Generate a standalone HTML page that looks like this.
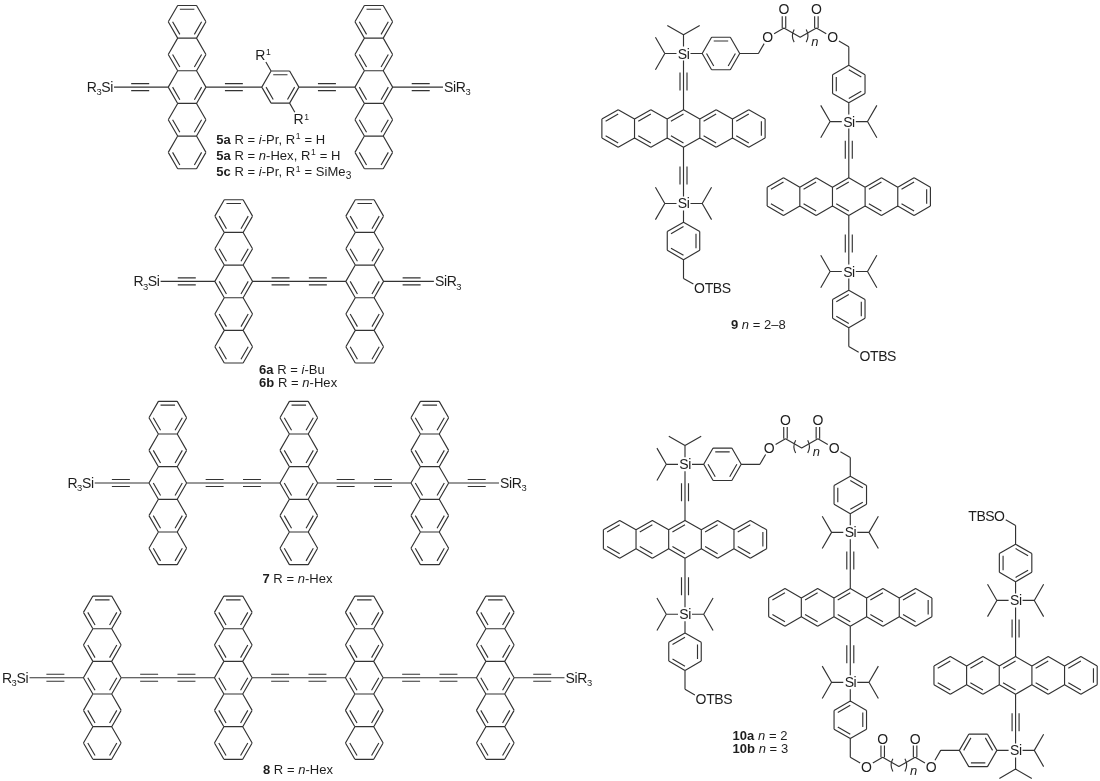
<!DOCTYPE html><html><head><meta charset="utf-8"><style>html,body{margin:0;padding:0;background:#fff;}svg{display:block;will-change:transform;}text{font-family:"Liberation Sans",sans-serif;fill:#1e1e1e;}</style></head><body>
<svg width="1100" height="781" viewBox="0 0 1100 781">
<rect width="1100" height="781" fill="#fff"/>
<g stroke="#333" stroke-width="1.15" fill="none" stroke-linecap="butt">
<path d="M168.25,21.80L177.67,5.48M177.67,5.48L196.53,5.48M196.53,5.48L205.95,21.80M205.95,21.80L196.53,38.13M196.53,38.13L177.68,38.13M177.68,38.13L168.25,21.80M179.84,9.23L194.36,9.23M201.61,21.80L194.36,34.37M179.84,34.37L172.59,21.80M168.25,54.45L177.67,38.13M196.53,38.13L205.95,54.45M205.95,54.45L196.53,70.78M196.53,70.78L177.68,70.78M177.68,70.78L168.25,54.45M201.61,54.45L194.36,67.02M179.84,67.02L172.59,54.45M168.25,87.10L177.67,70.78M196.53,70.78L205.95,87.10M205.95,87.10L196.53,103.42M196.53,103.42L177.68,103.42M177.68,103.42L168.25,87.10M201.61,87.10L194.36,99.67M179.84,99.67L172.59,87.10M168.25,119.75L177.67,103.42M196.53,103.42L205.95,119.75M205.95,119.75L196.53,136.07M196.53,136.07L177.68,136.07M177.68,136.07L168.25,119.75M201.61,119.75L194.36,132.32M179.84,132.32L172.59,119.75M168.25,152.40L177.67,136.07M196.53,136.07L205.95,152.40M205.95,152.40L196.53,168.72M196.53,168.72L177.68,168.72M177.68,168.72L168.25,152.40M201.61,152.40L194.36,164.97M179.84,164.97L172.59,152.40M354.95,21.80L364.38,5.48M364.38,5.48L383.23,5.48M383.23,5.48L392.65,21.80M392.65,21.80L383.23,38.13M383.23,38.13L364.38,38.13M364.38,38.13L354.95,21.80M366.54,9.23L381.06,9.23M388.31,21.80L381.06,34.37M366.54,34.37L359.29,21.80M354.95,54.45L364.38,38.13M383.23,38.13L392.65,54.45M392.65,54.45L383.23,70.78M383.23,70.78L364.38,70.78M364.38,70.78L354.95,54.45M388.31,54.45L381.06,67.02M366.54,67.02L359.29,54.45M354.95,87.10L364.38,70.78M383.23,70.78L392.65,87.10M392.65,87.10L383.23,103.42M383.23,103.42L364.38,103.42M364.38,103.42L354.95,87.10M388.31,87.10L381.06,99.67M366.54,99.67L359.29,87.10M354.95,119.75L364.38,103.42M383.23,103.42L392.65,119.75M392.65,119.75L383.23,136.07M383.23,136.07L364.38,136.07M364.38,136.07L354.95,119.75M388.31,119.75L381.06,132.32M366.54,132.32L359.29,119.75M354.95,152.40L364.38,136.07M383.23,136.07L392.65,152.40M392.65,152.40L383.23,168.72M383.23,168.72L364.38,168.72M364.38,168.72L354.95,152.40M388.31,152.40L381.06,164.97M366.54,164.97L359.29,152.40M261.80,87.10L271.07,71.04M271.07,71.04L289.62,71.04M289.62,71.04L298.90,87.10M298.90,87.10L289.62,103.16M289.62,103.16L271.08,103.16M271.08,103.16L261.80,87.10M273.21,74.73L287.49,74.73M294.63,87.10L287.49,99.47M273.21,99.47L266.07,87.10M114.02,87.10L168.25,87.10M131.18,90.60L149.19,90.60M131.18,83.60L149.19,83.60M205.95,87.10L261.80,87.10M224.92,90.60L242.83,90.60M224.92,83.60L242.83,83.60M298.90,87.10L354.95,87.10M317.93,90.60L335.92,90.60M317.93,83.60L335.92,83.60M392.65,87.10L442.98,87.10M411.71,90.60L429.72,90.60M411.71,83.60L429.72,83.60M271.07,71.04L265.87,62.02M289.62,103.16L294.83,112.18M214.85,216.10L224.27,199.78M224.27,199.78L243.12,199.78M243.12,199.78L252.55,216.10M252.55,216.10L243.12,232.43M243.12,232.43L224.27,232.43M224.27,232.43L214.85,216.10M226.44,203.53L240.96,203.53M248.21,216.10L240.96,228.67M226.44,228.67L219.19,216.10M214.85,248.75L224.27,232.43M243.12,232.43L252.55,248.75M252.55,248.75L243.12,265.08M243.12,265.08L224.27,265.08M224.27,265.08L214.85,248.75M248.21,248.75L240.96,261.32M226.44,261.32L219.19,248.75M214.85,281.40L224.27,265.08M243.12,265.08L252.55,281.40M252.55,281.40L243.12,297.72M243.12,297.72L224.27,297.72M224.27,297.72L214.85,281.40M248.21,281.40L240.96,293.97M226.44,293.97L219.19,281.40M214.85,314.05L224.27,297.72M243.12,297.72L252.55,314.05M252.55,314.05L243.12,330.37M243.12,330.37L224.27,330.37M224.27,330.37L214.85,314.05M248.21,314.05L240.96,326.62M226.44,326.62L219.19,314.05M214.85,346.70L224.27,330.37M243.12,330.37L252.55,346.70M252.55,346.70L243.12,363.02M243.12,363.02L224.27,363.02M224.27,363.02L214.85,346.70M248.21,346.70L240.96,359.27M226.44,359.27L219.19,346.70M345.85,216.10L355.27,199.78M355.27,199.78L374.12,199.78M374.12,199.78L383.55,216.10M383.55,216.10L374.12,232.43M374.12,232.43L355.27,232.43M355.27,232.43L345.85,216.10M357.44,203.53L371.96,203.53M379.21,216.10L371.96,228.67M357.44,228.67L350.19,216.10M345.85,248.75L355.27,232.43M374.12,232.43L383.55,248.75M383.55,248.75L374.12,265.08M374.12,265.08L355.27,265.08M355.27,265.08L345.85,248.75M379.21,248.75L371.96,261.32M357.44,261.32L350.19,248.75M345.85,281.40L355.27,265.08M374.12,265.08L383.55,281.40M383.55,281.40L374.12,297.72M374.12,297.72L355.27,297.72M355.27,297.72L345.85,281.40M379.21,281.40L371.96,293.97M357.44,293.97L350.19,281.40M345.85,314.05L355.27,297.72M374.12,297.72L383.55,314.05M383.55,314.05L374.12,330.37M374.12,330.37L355.27,330.37M355.27,330.37L345.85,314.05M379.21,314.05L371.96,326.62M357.44,326.62L350.19,314.05M345.85,346.70L355.27,330.37M374.12,330.37L383.55,346.70M383.55,346.70L374.12,363.02M374.12,363.02L355.27,363.02M355.27,363.02L345.85,346.70M379.21,346.70L371.96,359.27M357.44,359.27L350.19,346.70M160.62,281.40L214.85,281.40M177.78,284.90L195.79,284.90M177.78,277.90L195.79,277.90M252.55,281.40L345.85,281.40M271.56,284.90L289.52,284.90M271.56,277.90L289.52,277.90M308.88,284.90L326.84,284.90M308.88,277.90L326.84,277.90M383.55,281.40L433.88,281.40M402.61,284.90L420.62,284.90M402.61,277.90L420.62,277.90M148.95,417.70L158.38,401.38M158.38,401.38L177.23,401.38M177.23,401.38L186.65,417.70M186.65,417.70L177.23,434.03M177.23,434.03L158.38,434.03M158.38,434.03L148.95,417.70M160.54,405.13L175.06,405.13M182.31,417.70L175.06,430.27M160.54,430.27L153.29,417.70M148.95,450.35L158.38,434.03M177.23,434.03L186.65,450.35M186.65,450.35L177.23,466.68M177.23,466.68L158.38,466.68M158.38,466.68L148.95,450.35M182.31,450.35L175.06,462.92M160.54,462.92L153.29,450.35M148.95,483.00L158.38,466.68M177.23,466.68L186.65,483.00M186.65,483.00L177.23,499.32M177.23,499.32L158.38,499.32M158.38,499.32L148.95,483.00M182.31,483.00L175.06,495.57M160.54,495.57L153.29,483.00M148.95,515.65L158.38,499.32M177.23,499.32L186.65,515.65M186.65,515.65L177.23,531.97M177.23,531.97L158.38,531.97M158.38,531.97L148.95,515.65M182.31,515.65L175.06,528.22M160.54,528.22L153.29,515.65M148.95,548.30L158.38,531.97M177.23,531.97L186.65,548.30M186.65,548.30L177.23,564.62M177.23,564.62L158.38,564.62M158.38,564.62L148.95,548.30M182.31,548.30L175.06,560.87M160.54,560.87L153.29,548.30M279.95,417.70L289.38,401.38M289.38,401.38L308.23,401.38M308.23,401.38L317.65,417.70M317.65,417.70L308.23,434.03M308.23,434.03L289.38,434.03M289.38,434.03L279.95,417.70M291.54,405.13L306.06,405.13M313.31,417.70L306.06,430.27M291.54,430.27L284.29,417.70M279.95,450.35L289.38,434.03M308.23,434.03L317.65,450.35M317.65,450.35L308.23,466.68M308.23,466.68L289.38,466.68M289.38,466.68L279.95,450.35M313.31,450.35L306.06,462.92M291.54,462.92L284.29,450.35M279.95,483.00L289.38,466.68M308.23,466.68L317.65,483.00M317.65,483.00L308.23,499.32M308.23,499.32L289.38,499.32M289.38,499.32L279.95,483.00M313.31,483.00L306.06,495.57M291.54,495.57L284.29,483.00M279.95,515.65L289.38,499.32M308.23,499.32L317.65,515.65M317.65,515.65L308.23,531.97M308.23,531.97L289.38,531.97M289.38,531.97L279.95,515.65M313.31,515.65L306.06,528.22M291.54,528.22L284.29,515.65M279.95,548.30L289.38,531.97M308.23,531.97L317.65,548.30M317.65,548.30L308.23,564.62M308.23,564.62L289.38,564.62M289.38,564.62L279.95,548.30M313.31,548.30L306.06,560.87M291.54,560.87L284.29,548.30M410.95,417.70L420.38,401.38M420.38,401.38L439.23,401.38M439.23,401.38L448.65,417.70M448.65,417.70L439.23,434.03M439.23,434.03L420.38,434.03M420.38,434.03L410.95,417.70M422.54,405.13L437.06,405.13M444.31,417.70L437.06,430.27M422.54,430.27L415.29,417.70M410.95,450.35L420.38,434.03M439.23,434.03L448.65,450.35M448.65,450.35L439.23,466.68M439.23,466.68L420.38,466.68M420.38,466.68L410.95,450.35M444.31,450.35L437.06,462.92M422.54,462.92L415.29,450.35M410.95,483.00L420.38,466.68M439.23,466.68L448.65,483.00M448.65,483.00L439.23,499.32M439.23,499.32L420.38,499.32M420.38,499.32L410.95,483.00M444.31,483.00L437.06,495.57M422.54,495.57L415.29,483.00M410.95,515.65L420.38,499.32M439.23,499.32L448.65,515.65M448.65,515.65L439.23,531.97M439.23,531.97L420.38,531.97M420.38,531.97L410.95,515.65M444.31,515.65L437.06,528.22M422.54,528.22L415.29,515.65M410.95,548.30L420.38,531.97M439.23,531.97L448.65,548.30M448.65,548.30L439.23,564.62M439.23,564.62L420.38,564.62M420.38,564.62L410.95,548.30M444.31,548.30L437.06,560.87M422.54,560.87L415.29,548.30M94.72,483.00L148.95,483.00M111.88,486.50L129.89,486.50M111.88,479.50L129.89,479.50M186.65,483.00L279.95,483.00M205.66,486.50L223.62,486.50M205.66,479.50L223.62,479.50M242.98,486.50L260.94,486.50M242.98,479.50L260.94,479.50M317.65,483.00L410.95,483.00M336.66,486.50L354.62,486.50M336.66,479.50L354.62,479.50M373.98,486.50L391.94,486.50M373.98,479.50L391.94,479.50M448.65,483.00L498.98,483.00M467.71,486.50L485.72,486.50M467.71,479.50L485.72,479.50M83.45,612.40L92.87,596.08M92.87,596.08L111.72,596.08M111.72,596.08L121.15,612.40M121.15,612.40L111.72,628.73M111.72,628.73L92.88,628.73M92.88,628.73L83.45,612.40M95.04,599.83L109.56,599.83M116.81,612.40L109.56,624.97M95.04,624.97L87.79,612.40M83.45,645.05L92.87,628.73M111.72,628.73L121.15,645.05M121.15,645.05L111.72,661.38M111.72,661.38L92.88,661.38M92.88,661.38L83.45,645.05M116.81,645.05L109.56,657.62M95.04,657.62L87.79,645.05M83.45,677.70L92.87,661.38M111.72,661.38L121.15,677.70M121.15,677.70L111.72,694.02M111.72,694.02L92.88,694.02M92.88,694.02L83.45,677.70M116.81,677.70L109.56,690.27M95.04,690.27L87.79,677.70M83.45,710.35L92.87,694.02M111.72,694.02L121.15,710.35M121.15,710.35L111.72,726.67M111.72,726.67L92.88,726.67M92.88,726.67L83.45,710.35M116.81,710.35L109.56,722.92M95.04,722.92L87.79,710.35M83.45,743.00L92.87,726.67M111.72,726.67L121.15,743.00M121.15,743.00L111.72,759.32M111.72,759.32L92.88,759.32M92.88,759.32L83.45,743.00M116.81,743.00L109.56,755.57M95.04,755.57L87.79,743.00M214.45,612.40L223.88,596.08M223.88,596.08L242.73,596.08M242.73,596.08L252.15,612.40M252.15,612.40L242.73,628.73M242.73,628.73L223.88,628.73M223.88,628.73L214.45,612.40M226.04,599.83L240.56,599.83M247.81,612.40L240.56,624.97M226.04,624.97L218.79,612.40M214.45,645.05L223.88,628.73M242.73,628.73L252.15,645.05M252.15,645.05L242.73,661.38M242.73,661.38L223.88,661.38M223.88,661.38L214.45,645.05M247.81,645.05L240.56,657.62M226.04,657.62L218.79,645.05M214.45,677.70L223.88,661.38M242.73,661.38L252.15,677.70M252.15,677.70L242.73,694.02M242.73,694.02L223.88,694.02M223.88,694.02L214.45,677.70M247.81,677.70L240.56,690.27M226.04,690.27L218.79,677.70M214.45,710.35L223.88,694.02M242.73,694.02L252.15,710.35M252.15,710.35L242.73,726.67M242.73,726.67L223.88,726.67M223.88,726.67L214.45,710.35M247.81,710.35L240.56,722.92M226.04,722.92L218.79,710.35M214.45,743.00L223.88,726.67M242.73,726.67L252.15,743.00M252.15,743.00L242.73,759.32M242.73,759.32L223.88,759.32M223.88,759.32L214.45,743.00M247.81,743.00L240.56,755.57M226.04,755.57L218.79,743.00M345.45,612.40L354.88,596.08M354.88,596.08L373.73,596.08M373.73,596.08L383.15,612.40M383.15,612.40L373.73,628.73M373.73,628.73L354.88,628.73M354.88,628.73L345.45,612.40M357.04,599.83L371.56,599.83M378.81,612.40L371.56,624.97M357.04,624.97L349.79,612.40M345.45,645.05L354.88,628.73M373.73,628.73L383.15,645.05M383.15,645.05L373.73,661.38M373.73,661.38L354.88,661.38M354.88,661.38L345.45,645.05M378.81,645.05L371.56,657.62M357.04,657.62L349.79,645.05M345.45,677.70L354.88,661.38M373.73,661.38L383.15,677.70M383.15,677.70L373.73,694.02M373.73,694.02L354.88,694.02M354.88,694.02L345.45,677.70M378.81,677.70L371.56,690.27M357.04,690.27L349.79,677.70M345.45,710.35L354.88,694.02M373.73,694.02L383.15,710.35M383.15,710.35L373.73,726.67M373.73,726.67L354.88,726.67M354.88,726.67L345.45,710.35M378.81,710.35L371.56,722.92M357.04,722.92L349.79,710.35M345.45,743.00L354.88,726.67M373.73,726.67L383.15,743.00M383.15,743.00L373.73,759.32M373.73,759.32L354.88,759.32M354.88,759.32L345.45,743.00M378.81,743.00L371.56,755.57M357.04,755.57L349.79,743.00M476.45,612.40L485.88,596.08M485.88,596.08L504.73,596.08M504.73,596.08L514.15,612.40M514.15,612.40L504.73,628.73M504.73,628.73L485.88,628.73M485.88,628.73L476.45,612.40M488.04,599.83L502.56,599.83M509.81,612.40L502.56,624.97M488.04,624.97L480.79,612.40M476.45,645.05L485.88,628.73M504.73,628.73L514.15,645.05M514.15,645.05L504.73,661.38M504.73,661.38L485.88,661.38M485.88,661.38L476.45,645.05M509.81,645.05L502.56,657.62M488.04,657.62L480.79,645.05M476.45,677.70L485.88,661.38M504.73,661.38L514.15,677.70M514.15,677.70L504.73,694.02M504.73,694.02L485.88,694.02M485.88,694.02L476.45,677.70M509.81,677.70L502.56,690.27M488.04,690.27L480.79,677.70M476.45,710.35L485.88,694.02M504.73,694.02L514.15,710.35M514.15,710.35L504.73,726.67M504.73,726.67L485.88,726.67M485.88,726.67L476.45,710.35M509.81,710.35L502.56,722.92M488.04,722.92L480.79,710.35M476.45,743.00L485.88,726.67M504.73,726.67L514.15,743.00M514.15,743.00L504.73,759.32M504.73,759.32L485.88,759.32M485.88,759.32L476.45,743.00M509.81,743.00L502.56,755.57M488.04,755.57L480.79,743.00M29.52,677.70L83.45,677.70M46.38,681.20L64.39,681.20M46.38,674.20L64.39,674.20M121.15,677.70L214.45,677.70M140.16,681.20L158.12,681.20M140.16,674.20L158.12,674.20M177.48,681.20L195.44,681.20M177.48,674.20L195.44,674.20M252.15,677.70L345.45,677.70M271.16,681.20L289.12,681.20M271.16,674.20L289.12,674.20M308.48,681.20L326.44,681.20M308.48,674.20L326.44,674.20M383.15,677.70L476.45,677.70M402.16,681.20L420.12,681.20M402.16,674.20L420.12,674.20M439.48,681.20L457.44,681.20M439.48,674.20L457.44,674.20M514.15,677.70L564.48,677.70M533.21,681.20L551.22,681.20M533.21,674.20L551.22,674.20M683.50,46.50L683.50,34.79M683.50,34.79L699.70,25.43M683.50,34.79L667.30,25.43M676.50,53.50L664.79,53.50M664.79,53.50L655.43,37.30M664.79,53.50L655.43,69.70M702.21,53.50L711.59,37.26M711.59,37.26L730.34,37.26M730.34,37.26L739.71,53.50M739.71,53.50L730.34,69.74M730.34,69.74L711.59,69.74M711.59,69.74L702.21,53.50M713.74,41.00L728.18,41.00M735.40,53.50L728.18,66.00M713.74,66.00L706.52,53.50M690.50,53.50L702.21,53.50M739.71,53.50L758.42,53.50M758.42,53.50L764.13,43.62M774.10,33.65L783.98,27.94M785.73,27.94L785.73,16.23M782.23,27.94L782.23,16.23M783.98,27.94L800.18,37.30M800.18,37.30L816.39,27.94M818.14,27.94L818.14,16.23M814.64,27.94L814.64,16.23M816.39,27.94L826.27,33.65M838.91,40.95L848.79,46.65M848.79,65.36L865.03,74.74M865.03,74.74L865.03,93.49M865.03,93.49L848.79,102.86M848.79,102.86L832.55,93.49M832.55,93.49L832.55,74.74M832.55,74.74L848.79,65.36M848.79,69.67L861.29,76.89M836.29,91.33L836.29,76.89M861.29,91.33L848.79,98.55M848.79,46.65L848.79,65.36M848.79,102.86L848.79,114.57M841.79,121.57L830.08,121.57M830.08,121.57L820.73,105.37M830.08,121.57L820.73,137.78M855.79,121.57L867.50,121.57M867.50,121.57L876.86,137.78M867.50,121.57L876.86,105.37M683.50,60.50L683.50,109.63M680.00,72.56L680.00,90.57M687.00,72.56L687.00,90.57M748.80,109.63L765.12,119.05M765.12,119.05L765.12,137.91M765.12,137.91L748.80,147.33M748.80,147.33L732.47,137.91M732.47,137.91L732.47,119.05M732.47,119.05L748.80,109.63M736.23,121.22L748.80,113.97M761.37,121.22L761.37,135.74M748.80,142.99L736.23,135.74M716.15,109.63L732.47,119.05M732.47,137.91L716.15,147.33M716.15,147.33L699.82,137.91M699.82,137.91L699.82,119.05M699.82,119.05L716.15,109.63M703.58,121.22L716.15,113.97M716.15,142.99L703.58,135.74M683.50,109.63L699.82,119.05M699.82,137.91L683.50,147.33M683.50,147.33L667.18,137.91M667.18,137.91L667.18,119.05M667.18,119.05L683.50,109.63M670.93,121.22L683.50,113.97M683.50,142.99L670.93,135.74M650.85,109.63L667.18,119.05M667.18,137.91L650.85,147.33M650.85,147.33L634.53,137.91M634.53,137.91L634.53,119.05M634.53,119.05L650.85,109.63M638.28,121.22L650.85,113.97M650.85,142.99L638.28,135.74M618.20,109.63L634.53,119.05M634.53,137.91L618.20,147.33M618.20,147.33L601.88,137.91M601.88,137.91L601.88,119.05M601.88,119.05L618.20,109.63M605.63,121.22L618.20,113.97M618.20,142.99L605.63,135.74M683.50,147.33L683.50,196.46M680.00,166.39L680.00,184.40M687.00,166.39L687.00,184.40M676.50,203.46L664.79,203.46M664.79,203.46L655.43,187.26M664.79,203.46L655.43,219.66M690.50,203.46L702.21,203.46M702.21,203.46L711.57,219.66M702.21,203.46L711.57,187.26M683.50,222.17L699.74,231.54M699.74,231.54L699.74,250.29M699.74,250.29L683.50,259.67M683.50,259.67L667.26,250.29M667.26,250.29L667.26,231.54M667.26,231.54L683.50,222.17M671.00,233.70L683.50,226.48M696.00,233.70L696.00,248.14M683.50,255.36L671.00,248.14M683.50,210.46L683.50,222.17M683.50,259.67L683.50,278.38M683.50,278.38L693.38,284.08M848.79,128.57L848.79,177.70M845.29,140.63L845.29,158.64M852.29,140.63L852.29,158.64M914.09,177.70L930.41,187.13M930.41,187.13L930.41,205.98M930.41,205.98L914.09,215.40M914.09,215.40L897.77,205.98M897.77,205.98L897.77,187.13M897.77,187.13L914.09,177.70M901.52,189.29L914.09,182.04M926.66,189.29L926.66,203.81M914.09,211.07L901.52,203.81M881.44,177.70L897.77,187.13M897.77,205.98L881.44,215.40M881.44,215.40L865.12,205.98M865.12,205.98L865.12,187.13M865.12,187.13L881.44,177.70M868.87,189.29L881.44,182.04M881.44,211.07L868.87,203.81M848.79,177.70L865.12,187.13M865.12,205.98L848.79,215.40M848.79,215.40L832.47,205.98M832.47,205.98L832.47,187.13M832.47,187.13L848.79,177.70M836.22,189.29L848.79,182.04M848.79,211.07L836.22,203.81M816.14,177.70L832.47,187.13M832.47,205.98L816.14,215.40M816.14,215.40L799.82,205.98M799.82,205.98L799.82,187.13M799.82,187.13L816.14,177.70M803.57,189.29L816.14,182.04M816.14,211.07L803.57,203.81M783.49,177.70L799.82,187.13M799.82,205.98L783.49,215.40M783.49,215.40L767.17,205.98M767.17,205.98L767.17,187.13M767.17,187.13L783.49,177.70M770.92,189.29L783.49,182.04M783.49,211.07L770.92,203.81M848.79,215.40L848.79,264.53M845.29,234.46L845.29,252.47M852.29,234.46L852.29,252.47M841.79,271.53L830.08,271.53M830.08,271.53L820.73,255.33M830.08,271.53L820.73,287.74M855.79,271.53L867.50,271.53M867.50,271.53L876.86,287.74M867.50,271.53L876.86,255.33M848.79,290.24L865.03,299.62M865.03,299.62L865.03,318.37M865.03,318.37L848.79,327.74M848.79,327.74L832.55,318.37M832.55,318.37L832.55,299.62M832.55,299.62L848.79,290.24M836.29,301.77L848.79,294.55M861.29,301.77L861.29,316.21M848.79,323.43L836.29,316.21M848.79,278.53L848.79,290.24M848.79,327.74L848.79,346.45M848.79,346.45L858.67,352.16M685.00,457.30L685.00,445.59M685.00,445.59L701.20,436.24M685.00,445.59L668.80,436.24M678.00,464.30L666.29,464.30M666.29,464.30L656.93,448.10M666.29,464.30L656.93,480.50M703.71,464.30L713.09,448.06M713.09,448.06L731.84,448.06M731.84,448.06L741.21,464.30M741.21,464.30L731.84,480.54M731.84,480.54L713.09,480.54M713.09,480.54L703.71,464.30M715.24,451.80L729.68,451.80M736.90,464.30L729.68,476.80M715.24,476.80L708.02,464.30M692.00,464.30L703.71,464.30M741.21,464.30L759.92,464.30M759.92,464.30L765.63,454.42M775.60,444.45L785.48,438.74M787.23,438.74L787.23,427.03M783.73,438.74L783.73,427.03M785.48,438.74L801.68,448.10M801.68,448.10L817.89,438.74M819.64,438.74L819.64,427.03M816.14,438.74L816.14,427.03M817.89,438.74L827.77,444.45M840.41,451.75L850.29,457.45M850.29,476.16L866.53,485.54M866.53,485.54L866.53,504.29M866.53,504.29L850.29,513.66M850.29,513.66L834.05,504.29M834.05,504.29L834.05,485.54M834.05,485.54L850.29,476.16M850.29,480.47L862.79,487.69M837.79,502.13L837.79,487.69M862.79,502.13L850.29,509.35M850.29,457.45L850.29,476.16M850.29,513.66L850.29,525.37M843.29,532.37L831.58,532.37M831.58,532.37L822.23,516.17M831.58,532.37L822.23,548.58M857.29,532.37L869.00,532.37M869.00,532.37L878.36,548.58M869.00,532.37L878.36,516.17M685.00,471.30L685.00,520.43M681.50,483.36L681.50,501.37M688.50,483.36L688.50,501.37M750.30,520.43L766.62,529.86M766.62,529.86L766.62,548.71M766.62,548.71L750.30,558.13M750.30,558.13L733.97,548.71M733.97,548.71L733.97,529.86M733.97,529.86L750.30,520.43M737.73,532.02L750.30,524.77M762.87,532.02L762.87,546.54M750.30,553.79L737.73,546.54M717.65,520.43L733.97,529.86M733.97,548.71L717.65,558.13M717.65,558.13L701.32,548.71M701.32,548.71L701.32,529.86M701.32,529.86L717.65,520.43M705.08,532.02L717.65,524.77M717.65,553.79L705.08,546.54M685.00,520.43L701.32,529.86M701.32,548.71L685.00,558.13M685.00,558.13L668.68,548.71M668.68,548.71L668.68,529.86M668.68,529.86L685.00,520.43M672.43,532.02L685.00,524.77M685.00,553.79L672.43,546.54M652.35,520.43L668.68,529.86M668.68,548.71L652.35,558.13M652.35,558.13L636.03,548.71M636.03,548.71L636.03,529.86M636.03,529.86L652.35,520.43M639.78,532.02L652.35,524.77M652.35,553.79L639.78,546.54M619.70,520.43L636.03,529.86M636.03,548.71L619.70,558.13M619.70,558.13L603.38,548.71M603.38,548.71L603.38,529.86M603.38,529.86L619.70,520.43M607.13,532.02L619.70,524.77M619.70,553.79L607.13,546.54M685.00,558.13L685.00,607.26M681.50,577.19L681.50,595.20M688.50,577.19L688.50,595.20M678.00,614.26L666.29,614.26M666.29,614.26L656.93,598.06M666.29,614.26L656.93,630.46M692.00,614.26L703.71,614.26M703.71,614.26L713.07,630.46M703.71,614.26L713.07,598.06M685.00,632.97L701.24,642.35M701.24,642.35L701.24,661.10M701.24,661.10L685.00,670.47M685.00,670.47L668.76,661.10M668.76,661.10L668.76,642.35M668.76,642.35L685.00,632.97M672.50,644.50L685.00,637.28M697.50,644.50L697.50,658.94M685.00,666.16L672.50,658.94M685.00,621.26L685.00,632.97M685.00,670.47L685.00,689.18M685.00,689.18L694.88,694.89M850.29,539.37L850.29,588.50M846.79,551.43L846.79,569.44M853.79,551.43L853.79,569.44M915.59,588.50L931.91,597.93M931.91,597.93L931.91,616.78M931.91,616.78L915.59,626.20M915.59,626.20L899.27,616.78M899.27,616.78L899.27,597.93M899.27,597.93L915.59,588.50M903.02,600.09L915.59,592.84M928.16,600.09L928.16,614.61M915.59,621.87L903.02,614.61M882.94,588.50L899.27,597.93M899.27,616.78L882.94,626.20M882.94,626.20L866.62,616.78M866.62,616.78L866.62,597.93M866.62,597.93L882.94,588.50M870.37,600.09L882.94,592.84M882.94,621.87L870.37,614.61M850.29,588.50L866.62,597.93M866.62,616.78L850.29,626.20M850.29,626.20L833.97,616.78M833.97,616.78L833.97,597.93M833.97,597.93L850.29,588.50M837.72,600.09L850.29,592.84M850.29,621.87L837.72,614.61M817.64,588.50L833.97,597.93M833.97,616.78L817.64,626.20M817.64,626.20L801.32,616.78M801.32,616.78L801.32,597.93M801.32,597.93L817.64,588.50M805.07,600.09L817.64,592.84M817.64,621.87L805.07,614.61M784.99,588.50L801.32,597.93M801.32,616.78L784.99,626.20M784.99,626.20L768.67,616.78M768.67,616.78L768.67,597.93M768.67,597.93L784.99,588.50M772.42,600.09L784.99,592.84M784.99,621.87L772.42,614.61M850.29,626.20L850.29,675.33M846.79,645.26L846.79,663.27M853.79,645.26L853.79,663.27M843.29,682.33L831.58,682.33M831.58,682.33L822.23,666.13M831.58,682.33L822.23,698.54M857.29,682.33L869.00,682.33M869.00,682.33L878.36,698.54M869.00,682.33L878.36,666.13M850.29,701.04L866.53,710.42M866.53,710.42L866.53,729.17M866.53,729.17L850.29,738.54M850.29,738.54L834.05,729.17M834.05,729.17L834.05,710.42M834.05,710.42L850.29,701.04M837.79,712.57L850.29,705.35M862.79,712.57L862.79,727.01M850.29,734.23L837.79,727.01M850.29,689.33L850.29,701.04M850.29,738.54L850.29,757.25M850.29,757.25L860.17,762.96M872.82,762.96L882.70,757.25M884.45,757.25L884.45,745.54M880.95,757.25L880.95,745.54M882.70,757.25L898.90,766.61M898.90,766.61L915.11,757.25M916.86,757.25L916.86,745.54M913.36,757.25L913.36,745.54M915.11,757.25L924.99,762.96M934.96,760.28L940.66,750.40M959.37,750.40L968.75,734.17M968.75,734.17L987.50,734.17M987.50,734.17L996.87,750.40M996.87,750.40L987.50,766.64M987.50,766.64L968.75,766.64M968.75,766.64L959.37,750.40M963.69,750.40L970.90,737.90M985.34,737.90L992.56,750.40M985.34,762.91L970.90,762.91M940.66,750.40L959.37,750.40M996.87,750.40L1008.58,750.40M1022.58,750.40L1034.29,750.40M1034.29,750.40L1043.65,766.61M1034.29,750.40L1043.65,734.20M1015.58,757.40L1015.58,769.11M1015.58,769.11L999.38,778.47M1015.58,769.11L1031.79,778.47M1015.58,743.40L1015.58,694.27M1019.08,731.34L1019.08,713.33M1012.08,731.34L1012.08,713.33M1080.88,656.57L1097.21,666.00M1097.21,666.00L1097.21,684.85M1097.21,684.85L1080.88,694.27M1080.88,694.27L1064.56,684.85M1064.56,684.85L1064.56,666.00M1064.56,666.00L1080.88,656.57M1068.31,668.17L1080.88,660.91M1093.45,668.17L1093.45,682.68M1080.88,689.94L1068.31,682.68M1048.23,656.57L1064.56,666.00M1064.56,684.85L1048.23,694.27M1048.23,694.27L1031.91,684.85M1031.91,684.85L1031.91,666.00M1031.91,666.00L1048.23,656.57M1035.66,668.17L1048.23,660.91M1048.23,689.94L1035.66,682.68M1015.58,656.57L1031.91,666.00M1031.91,684.85L1015.58,694.27M1015.58,694.27L999.26,684.85M999.26,684.85L999.26,666.00M999.26,666.00L1015.58,656.57M1003.01,668.17L1015.58,660.91M1015.58,689.94L1003.01,682.68M982.93,656.57L999.26,666.00M999.26,684.85L982.93,694.27M982.93,694.27L966.61,684.85M966.61,684.85L966.61,666.00M966.61,666.00L982.93,656.57M970.36,668.17L982.93,660.91M982.93,689.94L970.36,682.68M950.29,656.57L966.61,666.00M966.61,684.85L950.29,694.27M950.29,694.27L933.96,684.85M933.96,684.85L933.96,666.00M933.96,666.00L950.29,656.57M937.72,668.17L950.29,660.91M950.29,689.94L937.72,682.68M1015.58,656.57L1015.58,607.44M1019.08,637.51L1019.08,619.50M1012.08,637.51L1012.08,619.50M1008.58,600.44L996.87,600.44M996.87,600.44L987.52,584.24M996.87,600.44L987.52,616.65M1022.58,600.44L1034.29,600.44M1034.29,600.44L1043.65,616.65M1034.29,600.44L1043.65,584.24M1015.58,544.23L1031.82,553.61M1031.82,553.61L1031.82,572.36M1031.82,572.36L1015.58,581.73M1015.58,581.73L999.35,572.36M999.35,572.36L999.35,553.61M999.35,553.61L1015.58,544.23M1015.58,548.55L1028.09,555.76M1003.08,570.20L1003.08,555.76M1028.09,570.20L1015.58,577.42M1015.58,581.73L1015.58,593.44M1015.58,544.23L1015.58,525.52M1015.58,525.52L1005.70,519.82"/>
<path d="M794.16,29.45 Q790.66,35.80 794.16,42.15"/>
<path d="M806.20,29.45 Q809.70,35.80 806.20,42.15"/>
<path d="M795.66,440.25 Q792.16,446.60 795.66,452.95"/>
<path d="M807.70,440.25 Q811.20,446.60 807.70,452.95"/>
<path d="M892.88,758.76 Q889.38,765.11 892.88,771.46"/>
<path d="M904.92,758.76 Q908.42,765.11 904.92,771.46"/>
</g>
<text x="113.02" y="92.10" font-size="14.0" text-anchor="end" letter-spacing="-0.35">R<tspan font-size="9.4" dy="3.2" dx="-0.2">3</tspan><tspan dy="-3.2">Si</tspan></text>
<text x="444.08" y="92.10" font-size="14.0" letter-spacing="-0.35">SiR<tspan font-size="9.4" dy="3.2" dx="-0.2">3</tspan></text>
<text x="255.32" y="59.83" font-size="14.0">R<tspan font-size="8.6" dy="-4.4" dx="0.6">1</tspan></text>
<text x="293.58" y="124.37" font-size="14.0">R<tspan font-size="8.6" dy="-4.4" dx="0.6">1</tspan></text>
<text x="159.62" y="286.40" font-size="14.0" text-anchor="end" letter-spacing="-0.35">R<tspan font-size="9.4" dy="3.2" dx="-0.2">3</tspan><tspan dy="-3.2">Si</tspan></text>
<text x="434.98" y="286.40" font-size="14.0" letter-spacing="-0.35">SiR<tspan font-size="9.4" dy="3.2" dx="-0.2">3</tspan></text>
<text x="93.72" y="488.00" font-size="14.0" text-anchor="end" letter-spacing="-0.35">R<tspan font-size="9.4" dy="3.2" dx="-0.2">3</tspan><tspan dy="-3.2">Si</tspan></text>
<text x="500.08" y="488.00" font-size="14.0" letter-spacing="-0.35">SiR<tspan font-size="9.4" dy="3.2" dx="-0.2">3</tspan></text>
<text x="28.22" y="682.70" font-size="14.0" text-anchor="end" letter-spacing="-0.35">R<tspan font-size="9.4" dy="3.2" dx="-0.2">3</tspan><tspan dy="-3.2">Si</tspan></text>
<text x="565.58" y="682.70" font-size="14.0" letter-spacing="-0.35">SiR<tspan font-size="9.4" dy="3.2" dx="-0.2">3</tspan></text>
<text x="216.20" y="143.50" font-size="13.0" letter-spacing="0.04"><tspan font-weight="bold">5a</tspan> R = <tspan font-style="italic">i</tspan>-Pr, R<tspan font-size="8.6" dy="-4.3" dx="0.5">1</tspan><tspan dy="4.3" dx="0.3"> </tspan>= H</text>
<text x="216.20" y="159.70" font-size="13.0" letter-spacing="0.04"><tspan font-weight="bold">5a</tspan> R = <tspan font-style="italic">n</tspan>-Hex, R<tspan font-size="8.6" dy="-4.3" dx="0.5">1</tspan><tspan dy="4.3" dx="0.3"> </tspan>= H</text>
<text x="216.20" y="176.00" font-size="13.0" letter-spacing="0.04"><tspan font-weight="bold">5c</tspan> R = <tspan font-style="italic">i</tspan>-Pr, R<tspan font-size="8.6" dy="-4.3" dx="0.5">1</tspan><tspan dy="4.3" dx="0.3"> </tspan>= SiMe<tspan font-size="10.1" dy="3.0" dx="0.3">3</tspan></text>
<text x="259.00" y="374.00" font-size="13.0" letter-spacing="0.04"><tspan font-weight="bold">6a</tspan> R = <tspan font-style="italic">i</tspan>-Bu</text>
<text x="259.00" y="386.80" font-size="13.0" letter-spacing="0.04"><tspan font-weight="bold">6b</tspan> R = <tspan font-style="italic">n</tspan>-Hex</text>
<text x="262.40" y="582.80" font-size="13.0" letter-spacing="0.04"><tspan font-weight="bold">7</tspan> R = <tspan font-style="italic">n</tspan>-Hex</text>
<text x="262.90" y="774.00" font-size="13.0" letter-spacing="0.04"><tspan font-weight="bold">8</tspan> R = <tspan font-style="italic">n</tspan>-Hex</text>
<text x="730.90" y="329.30" font-size="13.0" letter-spacing="0.04"><tspan font-weight="bold">9</tspan> <tspan font-style="italic">n</tspan> = 2–8</text>
<text x="732.50" y="739.50" font-size="13.0" letter-spacing="0.04"><tspan font-weight="bold">10a</tspan> <tspan font-style="italic">n</tspan> = 2</text>
<text x="732.50" y="752.50" font-size="13.0" letter-spacing="0.04"><tspan font-weight="bold">10b</tspan> <tspan font-style="italic">n</tspan> = 3</text>
<text x="683.70" y="58.50" font-size="14.0" text-anchor="middle" letter-spacing="-0.4">Si</text>
<text x="767.78" y="42.30" font-size="14.0" text-anchor="middle">O</text>
<text x="783.98" y="14.23" font-size="14.0" text-anchor="middle">O</text>
<text x="811.29" y="45.54" font-size="13" font-style="italic">n</text>
<text x="816.39" y="14.23" font-size="14.0" text-anchor="middle">O</text>
<text x="832.59" y="42.30" font-size="14.0" text-anchor="middle">O</text>
<text x="848.99" y="126.57" font-size="14.0" text-anchor="middle" letter-spacing="-0.4">Si</text>
<text x="683.70" y="208.46" font-size="14.0" text-anchor="middle" letter-spacing="-0.4">Si</text>
<text x="694.10" y="292.73" font-size="14.0" letter-spacing="-0.35">OTBS</text>
<text x="848.99" y="276.53" font-size="14.0" text-anchor="middle" letter-spacing="-0.4">Si</text>
<text x="859.40" y="360.81" font-size="14.0" letter-spacing="-0.35">OTBS</text>
<text x="685.20" y="469.30" font-size="14.0" text-anchor="middle" letter-spacing="-0.4">Si</text>
<text x="769.28" y="453.10" font-size="14.0" text-anchor="middle">O</text>
<text x="785.48" y="425.03" font-size="14.0" text-anchor="middle">O</text>
<text x="812.79" y="456.34" font-size="13" font-style="italic">n</text>
<text x="817.89" y="425.03" font-size="14.0" text-anchor="middle">O</text>
<text x="834.09" y="453.10" font-size="14.0" text-anchor="middle">O</text>
<text x="850.49" y="537.37" font-size="14.0" text-anchor="middle" letter-spacing="-0.4">Si</text>
<text x="685.20" y="619.26" font-size="14.0" text-anchor="middle" letter-spacing="-0.4">Si</text>
<text x="695.60" y="703.54" font-size="14.0" letter-spacing="-0.35">OTBS</text>
<text x="850.49" y="687.33" font-size="14.0" text-anchor="middle" letter-spacing="-0.4">Si</text>
<text x="866.50" y="771.61" font-size="14.0" text-anchor="middle">O</text>
<text x="882.70" y="743.54" font-size="14.0" text-anchor="middle">O</text>
<text x="910.01" y="774.85" font-size="13" font-style="italic">n</text>
<text x="915.11" y="743.54" font-size="14.0" text-anchor="middle">O</text>
<text x="931.31" y="771.61" font-size="14.0" text-anchor="middle">O</text>
<text x="1015.78" y="755.40" font-size="14.0" text-anchor="middle" letter-spacing="-0.4">Si</text>
<text x="1015.78" y="605.44" font-size="14.0" text-anchor="middle" letter-spacing="-0.4">Si</text>
<text x="1004.48" y="521.17" font-size="14.0" text-anchor="end" letter-spacing="-0.5">TBSO</text>
</svg></body></html>
